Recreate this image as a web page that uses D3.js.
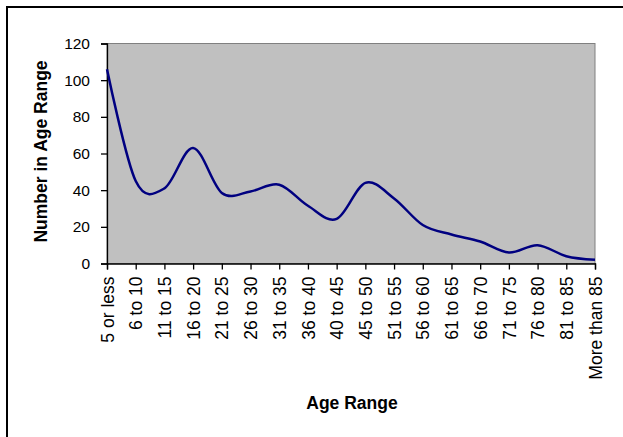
<!DOCTYPE html>
<html>
<head>
<meta charset="utf-8">
<script src="https://cdn.jsdelivr.net/npm/d3@7/dist/d3.min.js"></script>
<style>
  html, body { margin: 0; padding: 0; background: #fff; }
  svg { display: block; font-family: Arial, "Liberation Sans", sans-serif; }
</style>
</head>
<body>
<svg id="chart" width="623" height="437"></svg>
<script>
const categories = ["5 or less", "6 to 10", "11 to 15", "16 to 20", "21 to 25", "26 to 30",
  "31 to 35", "36 to 40", "40 to 45", "45 to 50", "51 to 55", "56 to 60", "61 to 65",
  "66 to 70", "71 to 75", "76 to 80", "81 to 85", "More than 85"];
const counts = [106, 45, 41, 63, 38.5, 39.3, 43, 31.5, 24.3, 44, 35.5, 21, 15.8, 12, 6, 10, 4, 2];
const yTicks = [0, 20, 40, 60, 80, 100, 120];
const xTitle = "Age Range";
const yTitle = "Number in Age Range";

const svg = d3.select("#chart");
const plot = { left: 107, right: 595, top: 43.5, bottom: 263.5 };

// outer chart frame (only top/left visible)
svg.append("rect").attr("x", 7).attr("y", 7).attr("width", 700).attr("height", 500)
  .attr("fill", "none").attr("stroke", "#000").attr("stroke-width", 2);

const x = d3.scalePoint().domain(categories).range([plot.left, plot.right]);
const y = d3.scaleLinear().domain([0, 120]).range([plot.bottom, plot.top]);

// plot area
svg.append("rect").attr("x", plot.left).attr("y", plot.top)
  .attr("width", plot.right - plot.left).attr("height", plot.bottom - plot.top)
  .attr("fill", "#C0C0C0").attr("stroke", "#808080").attr("stroke-width", 1);

// y axis
const yAxis = svg.append("g").attr("transform", `translate(${plot.left},0)`)
  .call(d3.axisLeft(y).tickValues(yTicks).tickSize(6).tickPadding(11));
yAxis.select(".domain").attr("stroke", "#000").attr("stroke-width", 1.3);
yAxis.selectAll(".tick line").attr("stroke", "#000").attr("stroke-width", 1.3);
yAxis.selectAll(".tick text").attr("font-size", "15.5px").attr("fill", "#000")
  .attr("transform", "scale(1,1.1)").attr("y", function(d) { return 0; });
// keep labels centered on ticks after vertical stretch
yAxis.selectAll(".tick text").attr("transform", null).style("transform-box", "fill-box");

// x axis
const xAxis = svg.append("g").attr("transform", `translate(0,${plot.bottom})`)
  .call(d3.axisBottom(x).tickSize(6).tickPadding(0));
xAxis.select(".domain").attr("stroke", "#000").attr("stroke-width", 1.3);
xAxis.selectAll(".tick line").attr("stroke", "#000").attr("stroke-width", 1.3);
xAxis.selectAll(".tick text")
  .attr("font-size", "17.5px").attr("fill", "#000")
  .attr("transform", "rotate(-90)")
  .attr("text-anchor", "end")
  .attr("x", -13).attr("y", 0).attr("dy", "0.35em");

// line
const line = d3.line()
  .x((d, i) => x(categories[i]))
  .y(d => y(d))
  .curve(d3.curveCardinal.tension(0));
svg.append("path").datum(counts)
  .attr("d", line)
  .attr("fill", "none").attr("stroke", "#000080").attr("stroke-width", 2.5)
  .attr("stroke-linejoin", "round");

// titles
svg.append("text").attr("x", 352).attr("y", 409)
  .attr("text-anchor", "middle").attr("font-weight", "bold").attr("font-size", "17.5px")
  .text(xTitle);
svg.append("text").attr("transform", `translate(47,${(plot.top + plot.bottom) / 2 - 2}) rotate(-90)`)
  .attr("text-anchor", "middle").attr("font-weight", "bold").attr("font-size", "17.5px")
  .text(yTitle);
</script>
</body>
</html>
